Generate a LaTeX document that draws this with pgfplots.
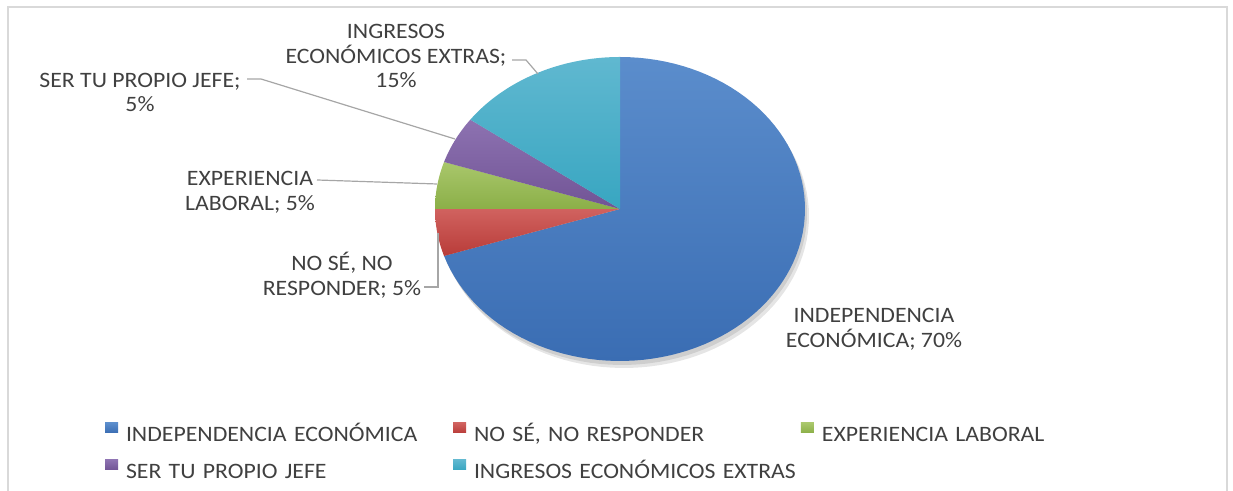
\documentclass[border=0pt]{standalone}
\usepackage{fontspec}
\setmainfont{Carlito}[FakeStretch=1.08]
\usepackage{pgfplots}
\usepackage{pgfplotstable}
\pgfplotsset{compat=1.18}
\definecolor{txt}{HTML}{404040}
\definecolor{leader}{HTML}{A6A6A6}
\definecolor{framec}{HTML}{D9D9D9}
\definecolor{top0}{HTML}{5B8DCC}\definecolor{bot0}{HTML}{3A6DB3}
\definecolor{top1}{HTML}{D0625F}\definecolor{bot1}{HTML}{B93C39}
\definecolor{top2}{HTML}{A9C76B}\definecolor{bot2}{HTML}{8BAF48}
\definecolor{top3}{HTML}{8D72B1}\definecolor{bot3}{HTML}{715495}
\definecolor{top4}{HTML}{60B8D0}\definecolor{bot4}{HTML}{38A6C1}

% share of each answer, in percent (clockwise from 12 o'clock)
\pgfplotstableread{
share
70
5
5
5
15
}\piedata

\begin{document}
\begin{tikzpicture}
\begin{axis}[
  scale only axis, width=616.5pt, height=245.5pt,
  xmin=0, xmax=1233, ymin=-491, ymax=0,
  hide axis, clip=false,
  legend columns=3,
  legend cell align=left,
  legend image code/.code={\path (0pt,0pt) -- (6.5pt,0pt);\fill[#1,overlay] (0pt,2pt) rectangle (6.5pt,7pt);},
  legend style={at={(axis description cs:0.08516,0.13035)}, anchor=north west,
    draw=none, fill=none, inner sep=0pt, outer sep=0pt, row sep=8.5pt,
    font=\fontsize{11}{12.25}\selectfont, text=txt,
    nodes={inner xsep=0pt, inner ysep=0pt, text width=163.5pt, text height=7.5pt, text depth=2.5pt, align=left},
    /tikz/every odd column/.append style={column sep=4pt}},
  legend entries={{INDEPENDENCIA ECONÓMICA},{NO SÉ, NO RESPONDER},{EXPERIENCIA LABORAL},{SER TU PROPIO JEFE},{INGRESOS ECONÓMICOS EXTRAS}},
]
% frame
\draw[framec, line width=1pt] (axis cs:7.5,-491) -- (axis cs:7.5,-7.5) -- (axis cs:1226.5,-7.5) -- (axis cs:1226.5,-491);
% soft shadow
\addplot[forget plot, draw=none, fill=black, fill opacity=0.10, domain=0:360, samples=120] ({622+185*cos(x)},{-213+152*sin(x)});
\addplot[forget plot, draw=none, fill=black, fill opacity=0.10, domain=0:360, samples=120] ({624+185*cos(x)},{-216+152*sin(x)});
% slices
\pgfmathsetmacro\angstart{90}
\pgfplotsforeachungrouped \i in {0,1,2,3,4}{%
  \pgfplotstablegetelem{\i}{share}\of\piedata
  \pgfmathsetmacro\angend{\angstart-3.6*\pgfplotsretval}%
  \edef\temp{\noexpand\addplot[draw=none, top color=top\i, bottom color=bot\i, domain=\angend:\angstart, samples=90] ({620+185*cos(x)},{-209+152*sin(x)}) -- (axis cs:620,-209) -- cycle;}%
  \temp
  \global\let\angstart\angend
}
% leader lines
\draw[leader, line width=0.6pt] (axis cs:512,-60) -- (axis cs:526,-60) -- (axis cs:538,-74);
\draw[leader, line width=0.6pt] (axis cs:247,-79) -- (axis cs:261,-79) -- (axis cs:455,-139);
\draw[leader, line width=0.6pt] (axis cs:317,-180) -- (axis cs:437,-184);
\draw[leader, line width=0.6pt] (axis cs:424,-287) -- (axis cs:438,-287) -- (axis cs:438,-233);
% labels
\begin{scope}[every node/.style={align=center, inner sep=0pt, text=txt, font=\fontsize{11}{12.25}\selectfont}]
\node at (axis cs:396,-56) {INGRESOS\\ECONÓMICOS EXTRAS;\\15\%};
\node at (axis cs:140,-92.5) {SER TU PROPIO JEFE;\\5\%};
\node at (axis cs:250,-192.5) {EXPERIENCIA\\LABORAL; 5\%};
\node at (axis cs:342,-275) {NO SÉ, NO\\RESPONDER; 5\%};
\node at (axis cs:874,-329.5) {INDEPENDENCIA\\ECONÓMICA; 70\%};
\end{scope}
\end{axis}
\pgfresetboundingbox
\useasboundingbox (0,0) rectangle (616.5pt,245.5pt);
\end{tikzpicture}
\end{document}
